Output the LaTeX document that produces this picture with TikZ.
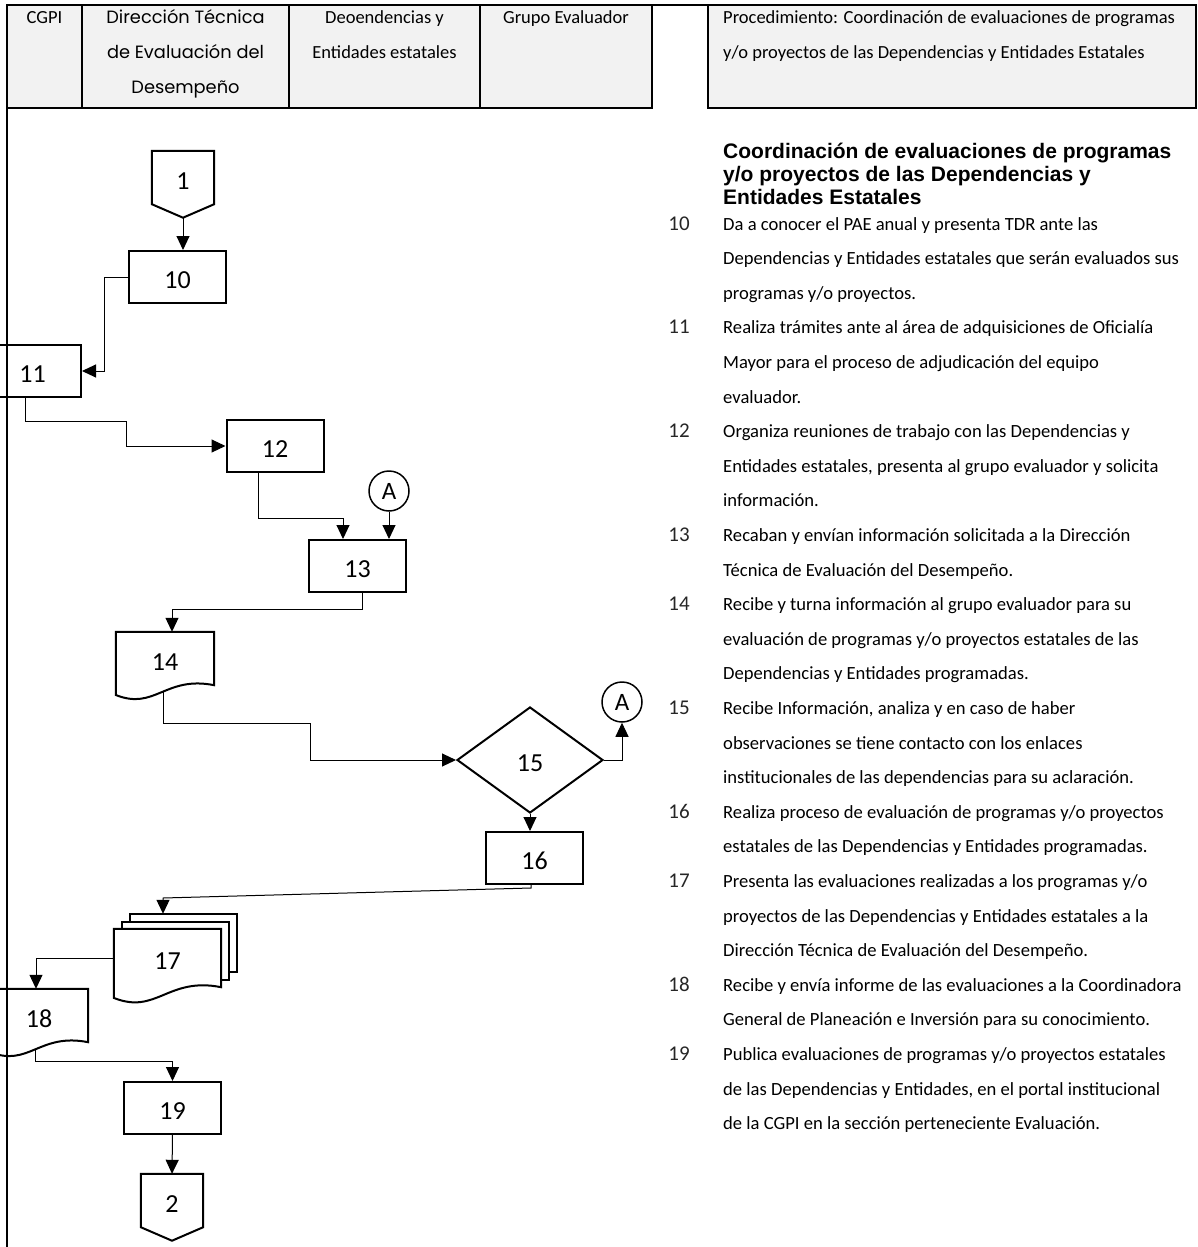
\documentclass[tikz,border=0pt]{standalone}
\usepackage{fontspec}
\setmainfont{Carlito}
\newfontfamily\gothicFont{Poppins}
\newfontfamily\arialFont{Liberation Sans}
\usetikzlibrary{positioning, shapes.geometric, arrows.meta}
\pgfdeclarelayer{background}
\pgfsetlayers{background,main}
\definecolor{headFill}{RGB}{242,242,242}
\definecolor{numGray}{RGB}{38,38,38}
\tikzstyle{sheet} = [x = 1pt, y = -1pt]
\tikzstyle{numFont} = [font = \fontsize{26}{26}\selectfont, text height = 23pt, text depth = 0pt]
\tikzstyle{processBox} = [draw, numFont, line width = 2pt, minimum width = 97pt, minimum height = 52pt, inner sep = 0pt]
\tikzstyle{pageBox} = [numFont, minimum width = 62pt, minimum height = 53pt, inner sep = 0pt]
\tikzstyle{docBox} = [numFont, minimum height = 53pt, inner sep = 0pt]
\tikzstyle{decision} = [draw, diamond, numFont, line width = 2pt, minimum width = 146pt, minimum height = 106pt, inner sep = 0pt]
\tikzstyle{connector} = [draw, circle, line width = 1.5pt, minimum size = 40pt, inner sep = 0pt, font = \fontsize{25}{25}\selectfont]
\tikzstyle{shapeLine} = [line width = 2pt, fill = white]
\tikzstyle{flowArrow} = [line width = 1pt, -{Triangle[length = 14pt, width = 13pt]}]
\tikzstyle{headLine} = [line width = 2pt]
\tikzstyle{headText} = [anchor = base, inner sep = 0pt, font = \fontsize{18.5}{18.5}\selectfont]
\tikzstyle{gothicText} = [anchor = base, inner sep = 0pt, font = \gothicFont\fontsize{17.8}{17.8}\selectfont]
\tikzstyle{titleText} = [anchor = base west, inner sep = 0pt, font = \arialFont\bfseries\fontsize{21}{21}\selectfont]
\tikzstyle{stepText} = [anchor = base west, inner sep = 0pt, font = \fontsize{18.6}{18.6}\selectfont]
\tikzstyle{stepNum} = [anchor = base, inner sep = 0pt, text = numGray, font = \fontsize{21}{21}\selectfont]
\newcommand{\lineGap}{34.6}
\newcommand{\pageOutline}[1]{\draw [shapeLine] (#1.north west) -- (#1.north east) -- (#1.south east) -- ([yshift=-13.5pt]#1.south) -- (#1.south west) -- cycle;}
\newcommand{\docOutline}[2]{\draw [shapeLine] (#1.north west) -- (#1.north east) -- (#1.south east) .. controls +(-#2*0.5, -#2*0.1) and +(#2*0.4, #2*0.16) .. ([yshift={-0.1*#2}]#1.south west) -- cycle;}
\newcommand{\sheetBehind}[2]{\draw [shapeLine] ([shift={(#2)}]#1.north west) rectangle ([shift={(#2)}]#1.south east);}

\begin{document}
\begin{tikzpicture}[sheet]
  \useasboundingbox (0,0) rectangle (1197,1247);
  % header
  \filldraw [headLine, fill = headFill] (7,5) rectangle (652,108);
  \filldraw [headLine, fill = headFill] (708,5) rectangle (1196,108);
  \draw [headLine] (652,5) -- (708,5);
  \foreach \divider in {82, 289, 480}
    \draw [headLine] (\divider,5) -- (\divider,108);
  \node [headText] (cgpiHead) at (44.5,24) {CGPI};
  \node [gothicText] (dtedHeadA) at (185.5,24) {Dirección Técnica};
  \node [gothicText] (dtedHeadB) at (185.5,24+\lineGap) {de Evaluación del};
  \node [gothicText] (dtedHeadC) at (185.5,24+2*\lineGap) {Desempeño};
  \node [headText] (depHeadA) at (384.5,24) {Deoendencias y};
  \node [headText] (depHeadB) at (384.5,24+\lineGap) {Entidades estatales};
  \node [headText] (grupoHead) at (566,24) {Grupo Evaluador};
  \node [headText, anchor = base west] (procHeadA) at (723,24) {Procedimiento: Coordinación de evaluaciones de programas};
  \node [headText, anchor = base west] (procHeadB) at (723,24+\lineGap) {y/o proyectos de las Dependencias y Entidades Estatales};

  % flow
  \node [pageBox] (onePage) at (183,177.5) {1};
  \node [processBox] (tenBox) at (177.5,277) {10};
  \node [processBox] (elevenBox) at (32.5,371) {11};
  \node [processBox] (twelveBox) at (275,446) {12};
  \node [connector] (aTop) at (389,491) {A};
  \node [processBox] (thirteenBox) at (357.5,566) {13};
  \node [docBox, minimum width = 98pt] (fourteenDoc) at (165,658.5) {14};
  \node [decision] (fifteenDia) at (530,760) {15};
  \node [connector] (aSide) at (622,702) {A};
  \node [processBox] (sixteenBox) at (534.5,858) {16};
  \node [docBox, minimum width = 107pt, minimum height = 58pt] (seventeenDoc) at (167.5,958) {17};
  \node [docBox, minimum width = 98pt] (eighteenDoc) at (39,1015.5) {18};
  \node [processBox] (nineteenBox) at (172.5,1108) {19};
  \node [pageBox] (twoPage) at (172,1200.5) {2};

  \begin{pgfonlayer}{background}
    \pageOutline{onePage}
    \pageOutline{twoPage}
    \docOutline{fourteenDoc}{98}
    \sheetBehind{seventeenDoc}{16pt,15pt}
    \sheetBehind{seventeenDoc}{8pt,7pt}
    \docOutline{seventeenDoc}{107}
    \docOutline{eighteenDoc}{98}
  \end{pgfonlayer}

  \coordinate (fourteenFoot) at ([xshift=-2pt, yshift=-7pt]fourteenDoc.south);
  \coordinate (stackTop) at ([xshift=-4.5pt, yshift=15pt]seventeenDoc.north);
  \coordinate (eighteenFoot) at ([xshift=-4pt, yshift=-7pt]eighteenDoc.south);

  \draw [flowArrow] ([yshift=-13.5pt]onePage.south) -- (onePage |- tenBox.north);
  \draw [flowArrow] (tenBox.west) -- ++(-24,0) |- (elevenBox.east);
  \draw [flowArrow] ([xshift=-7.5pt]elevenBox.south) |- (126,421) |- (twelveBox.west);
  \draw [flowArrow] ([xshift=-17pt]twelveBox.south) -- ++(0,45) -| ([xshift=-14.5pt]thirteenBox.north);
  \draw [flowArrow] (aTop.south) -- (aTop.south |- thirteenBox.north);
  \draw [flowArrow] ([xshift=4.5pt]thirteenBox.south) -- ++(0,16) -| ([xshift=7pt]fourteenDoc.north);
  \draw [flowArrow] (fourteenFoot) |- (310,723) |- (fifteenDia.west);
  \draw [flowArrow] (fifteenDia.east) -| (aSide.south);
  \draw [flowArrow] (fifteenDia.south) -- (fifteenDia.south |- sixteenBox.north);
  \draw [flowArrow] ([xshift=-3.5pt]sixteenBox.south) -- ++(0,3) -- (stackTop |- 0,898) -- (stackTop);
  \draw [flowArrow] (seventeenDoc.west) -| ([xshift=-3pt]eighteenDoc.north);
  \draw [flowArrow] (eighteenFoot) -- ++(0,12) -| (nineteenBox.north);
  \draw [flowArrow] (nineteenBox.south) -- (twoPage.north);

  % lane line
  \draw [headLine] (7,5) -- (7,1247);

  % description
  \foreach \titleLine [count=\k from 0] in {{Coordinación de evaluaciones de programas}, {y/o proyectos de las Dependencias y}, {Entidades Estatales}}
    \node [titleText] (title\k) at (723,158+23*\k) {\titleLine};
  \foreach \stepLine [count=\k from 0] in {
      {Da a conocer el PAE anual y presenta TDR ante las},
      {Dependencias y Entidades estatales que serán evaluados sus},
      {programas y/o proyectos.},
      {Realiza trámites ante al área de adquisiciones de Oficialía},
      {Mayor para el proceso de adjudicación del equipo},
      {evaluador.},
      {Organiza reuniones de trabajo con las Dependencias y},
      {Entidades estatales, presenta al grupo evaluador y solicita},
      {información.},
      {Recaban y envían información solicitada a la Dirección},
      {Técnica de Evaluación del Desempeño.},
      {Recibe y turna información al grupo evaluador para su},
      {evaluación de programas y/o proyectos estatales de las},
      {Dependencias y Entidades programadas.},
      {Recibe Información, analiza y en caso de haber},
      {observaciones se tiene contacto con los enlaces},
      {institucionales de las dependencias para su aclaración.},
      {Realiza proceso de evaluación de programas y/o proyectos},
      {estatales de las Dependencias y Entidades programadas.},
      {Presenta las evaluaciones realizadas a los programas y/o},
      {proyectos de las Dependencias y Entidades estatales a la},
      {Dirección Técnica de Evaluación del Desempeño.},
      {Recibe y envía informe de las evaluaciones a la Coordinadora},
      {General de Planeación e Inversión para su conocimiento.},
      {Publica evaluaciones de programas y/o proyectos estatales},
      {de las Dependencias y Entidades, en el portal institucional},
      {de la CGPI en la sección perteneciente Evaluación.}}
    \node [stepText] (stepLine\k) at (723,230+\lineGap*\k) {\stepLine};
  \foreach \stepId/\k in {10/0, 11/3, 12/6, 13/9, 14/11, 15/14, 16/17, 17/19, 18/22, 19/24}
    \node [stepNum] (stepNum\stepId) at (679,230+\lineGap*\k) {\stepId};
\end{tikzpicture}
\end{document}
